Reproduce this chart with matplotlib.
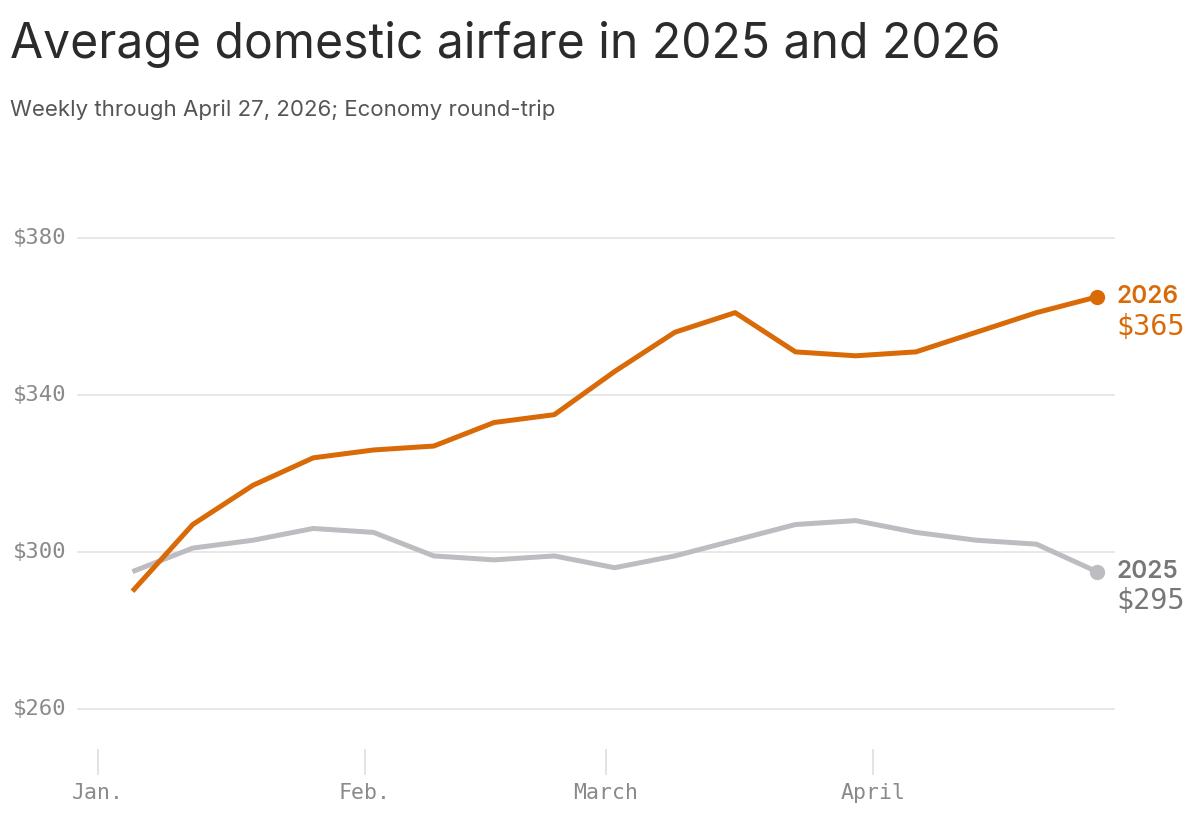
import datetime as dt
import matplotlib
matplotlib.use('Agg')
import matplotlib.pyplot as plt
import matplotlib.dates as mdates

# ----------------------------------------------------------
# Data: average weekly domestic airfare (economy round-trip)
# ----------------------------------------------------------
weeks = ['01-05', '01-12', '01-19', '01-26', '02-02', '02-09', '02-16', '02-23',
         '03-02', '03-09', '03-16', '03-23', '03-30', '04-06', '04-13', '04-20', '04-27']
fare_2026 = [290, 307, 317, 324, 326, 327, 333, 335, 346, 356, 361, 351, 350, 351, 356, 361, 365]
fare_2025 = [295, 301, 303, 306, 305, 299, 298, 299, 296, 299, 303, 307, 308, 305, 303, 302, 295]

y_ticks = [260, 300, 340, 380]
month_ticks = ['01-01', '02-01', '03-01', '04-01']
month_labels = ['Jan.', 'Feb.', 'March', 'April']

ORANGE = '#d96a08'
GRAY_LINE = '#bdbdc1'
GRAY_TEXT = '#777777'
MONO = 'DejaVu Sans Mono'

dates = [dt.date(2026, int(w[:2]), int(w[3:])) for w in weeks]
month_dates = [dt.date(2026, int(m[:2]), int(m[3:])) for m in month_ticks]

fig = plt.figure(figsize=(12, 8.18), dpi=100)
W, H = 1200, 818
ax_left, ax_right, ax_top, ax_bottom = 77, 1115, 180, 749
ax = fig.add_axes([ax_left / W, 1 - ax_bottom / H,
                   (ax_right - ax_left) / W, (ax_bottom - ax_top) / H])

ax.plot(dates, fare_2025, color=GRAY_LINE, lw=3.6, solid_capstyle='butt', zorder=3)
ax.plot(dates, fare_2026, color=ORANGE, lw=3.6, solid_capstyle='butt', zorder=4)
ax.plot(dates[-1], fare_2025[-1], 'o', color=GRAY_LINE, ms=10, zorder=5)
ax.plot(dates[-1], fare_2026[-1], 'o', color=ORANGE, ms=10, zorder=5)

# Jan 1 sits at ~98 px, one day ~8.61 px
px_day = 8.61
jan1 = mdates.date2num(dt.date(2026, 1, 1))
ax.set_xlim(jan1 - (98 - ax_left) / px_day, jan1 + (ax_right - 98) / px_day)
ax.set_ylim(249.8, 394.8)

for v in y_ticks:
    ax.axhline(v, color='#e2e2e2', lw=1.1, zorder=1)
    ax.annotate(f'${v}', (0, v), xycoords=('figure pixels', 'data'),
                xytext=(13, 0), textcoords='offset pixels',
                ha='left', va='center', fontsize=16, family=MONO, color='#8a8a8a')
ax.set_yticks([])

ax.set_xticks(month_dates)
ax.set_xticklabels(month_labels, family=MONO, fontsize=15.5, color='#8a8a8a')
ax.tick_params(axis='x', length=18.7, width=1.1, color='#dddddd', pad=6)

for s in ax.spines.values():
    s.set_visible(False)

# labels at the end of each line
ax.annotate('2026', (dates[-1], fare_2026[-1]), xytext=(14, 0), textcoords='offset points',
            ha='left', va='center', fontsize=17.5, fontweight='semibold', family='Inter',
            color=ORANGE, annotation_clip=False)
ax.annotate('$365', (dates[-1], fare_2026[-1]), xytext=(14, -21.5), textcoords='offset points',
            ha='left', va='center', fontsize=20.5, family=MONO,
            color=ORANGE, annotation_clip=False)
ax.annotate('2025', (dates[-1], fare_2025[-1]), xytext=(14, 0), textcoords='offset points',
            ha='left', va='center', fontsize=17.5, fontweight='semibold', family='Inter',
            color=GRAY_TEXT, annotation_clip=False)
ax.annotate('$295', (dates[-1], fare_2025[-1]), xytext=(14, -21), textcoords='offset points',
            ha='left', va='center', fontsize=20.5, family=MONO,
            color=GRAY_TEXT, annotation_clip=False)

fig.text(10 / W, 1 - 44 / H, 'Average domestic airfare in 2025 and 2026',
         ha='left', va='center', fontsize=34.6, family='Inter', color='#2b2b2b')
fig.text(10 / W, 1 - 110 / H, 'Weekly through April 27, 2026; Economy round-trip',
         ha='left', va='center', fontsize=16, family='Inter', color='#555555')

fig.savefig('out.png', dpi=100, facecolor='white')
